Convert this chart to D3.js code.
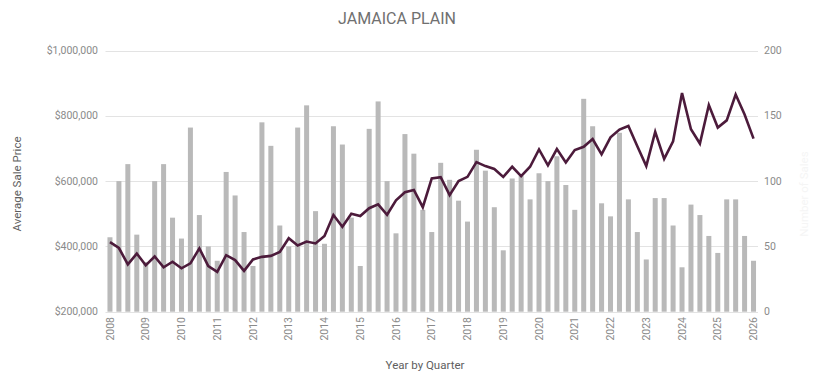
<!DOCTYPE html>
<html>
<head>
<meta charset="utf-8">
<script src="https://cdn.jsdelivr.net/npm/d3@7/dist/d3.min.js"></script>
<style>
  html, body { margin: 0; padding: 0; background: #fff; }
  svg { display: block; font-family: Roboto, "Open Sans", sans-serif; }
</style>
</head>
<body>
<svg id="chart" width="822" height="375"></svg>
<script>
// Quarterly sales in Jamaica Plain, 2008 Q1 – 2026 Q1
const years = d3.range(2008, 2027);
const quarters = [];
years.forEach(y => [1, 2, 3, 4].forEach(q => { if (y < 2026 || q === 1) quarters.push(y + "-Q" + q); }));

// Number of sales per quarter (right axis)
const salesCount = [
  57, 100, 113, 59, 38, 100, 113, 72, 56, 141, 74, 50, 39, 107, 89, 61,
  35, 145, 127, 66, 50, 141, 158, 77, 52, 142, 128, 72, 35, 140, 161, 100,
  60, 136, 121, 78, 61, 114, 101, 85, 69, 124, 108, 80, 47, 102, 104, 86,
  106, 100, 119, 97, 78, 163, 142, 83, 73, 137, 86, 61, 40, 87, 87, 66,
  34, 82, 74, 58, 45, 86, 86, 58, 39
];

// Average sale price per quarter (left axis)
const avgPrice = [
  413000, 395000, 345000, 378000, 342000, 369000, 336000, 353000, 333000, 348000, 394000, 340000, 322000, 373000, 358000, 325000,
  360000, 368000, 371000, 383000, 425000, 403000, 415000, 409000, 432000, 496000, 460000, 500000, 493000, 517000, 529000, 497000,
  541000, 566000, 573000, 520000, 608000, 612000, 557000, 600000, 613000, 658000, 646000, 637000, 613000, 644000, 615000, 644000,
  697000, 648000, 698000, 657000, 695000, 705000, 729000, 682000, 734000, 758000, 769000, 707000, 646000, 751000, 668000, 722000,
  870000, 759000, 715000, 833000, 764000, 786000, 865000, 804000, 730000
];

const priceTicks = [200000, 400000, 600000, 800000, 1000000];
const countTicks = [0, 50, 100, 150, 200];

const svg = d3.select("#chart");
const m = { left: 105.5, right: 758, top: 50.5, bottom: 311.7 };

const x = d3.scaleBand().domain(quarters).range([m.left, m.right]).paddingInner(0.44).paddingOuter(0.22);
const yPrice = d3.scaleLinear().domain([200000, 1000000]).range([m.bottom, m.top]);
const yCount = d3.scaleLinear().domain([0, 200]).range([m.bottom, m.top]);

// Horizontal gridlines
svg.append("g").selectAll("line").data(priceTicks).join("line")
  .attr("x1", m.left).attr("x2", m.right)
  .attr("y1", d => Math.round(yPrice(d)) + 0.5).attr("y2", d => Math.round(yPrice(d)) + 0.5)
  .attr("stroke", "#e3e3e3").attr("stroke-width", 1);

// Left axis labels
const fmt = d3.format("$,");
svg.append("g").selectAll("text").data(priceTicks).join("text")
  .attr("x", 98).attr("y", d => yPrice(d)).attr("dy", "0.35em")
  .attr("text-anchor", "end").attr("font-size", 10.5).attr("fill", "#8a8a8a")
  .text(d => fmt(d));

// Right axis labels
svg.append("g").selectAll("text").data(countTicks).join("text")
  .attr("x", 764).attr("y", d => yCount(d)).attr("dy", "0.35em")
  .attr("text-anchor", "start").attr("font-size", 10.5).attr("fill", "#8a8a8a")
  .text(d => d);

// Bars: number of sales
svg.append("g").selectAll("rect").data(salesCount).join("rect")
  .attr("x", (d, i) => x(quarters[i]))
  .attr("width", x.bandwidth())
  .attr("y", d => yCount(d))
  .attr("height", d => yCount(0) - yCount(d))
  .attr("fill", "#b9b9b9");

// Line: average sale price
const line = d3.line()
  .x((d, i) => x(quarters[i]) + x.bandwidth() / 2)
  .y(d => yPrice(d));
svg.append("path").datum(avgPrice)
  .attr("d", line)
  .attr("fill", "none")
  .attr("stroke", "#4c1b3b")
  .attr("stroke-width", 2.6)
  .attr("stroke-linejoin", "miter");

// Year labels at each Q1
const yearLabels = quarters.filter(q => q.endsWith("Q1"));
svg.append("g").selectAll("text").data(yearLabels).join("text")
  .attr("transform", d => `translate(${x(d) + x.bandwidth() / 2},317) rotate(-90)`)
  .attr("dy", "0.35em")
  .attr("text-anchor", "end").attr("font-size", 10.5).attr("fill", "#8a8a8a")
  .text(d => d.slice(0, 4));

// Titles
svg.append("text").attr("x", 397).attr("y", 24).attr("text-anchor", "middle")
  .attr("font-size", 16).attr("fill", "#707070").text("JAMAICA PLAIN");
svg.append("text").attr("transform", "translate(21,184) rotate(-90)")
  .attr("text-anchor", "middle").attr("font-size", 11.5).attr("fill", "#5e5e5e")
  .text("Average Sale Price");
svg.append("text").attr("transform", "translate(808,194) rotate(-90)")
  .attr("text-anchor", "middle").attr("font-size", 11.5).attr("fill", "#f5f5f5")
  .text("Number of Sales");
svg.append("text").attr("x", 425).attr("y", 369).attr("text-anchor", "middle")
  .attr("font-size", 11.5).attr("fill", "#5e5e5e").text("Year by Quarter");
</script>
</body>
</html>
